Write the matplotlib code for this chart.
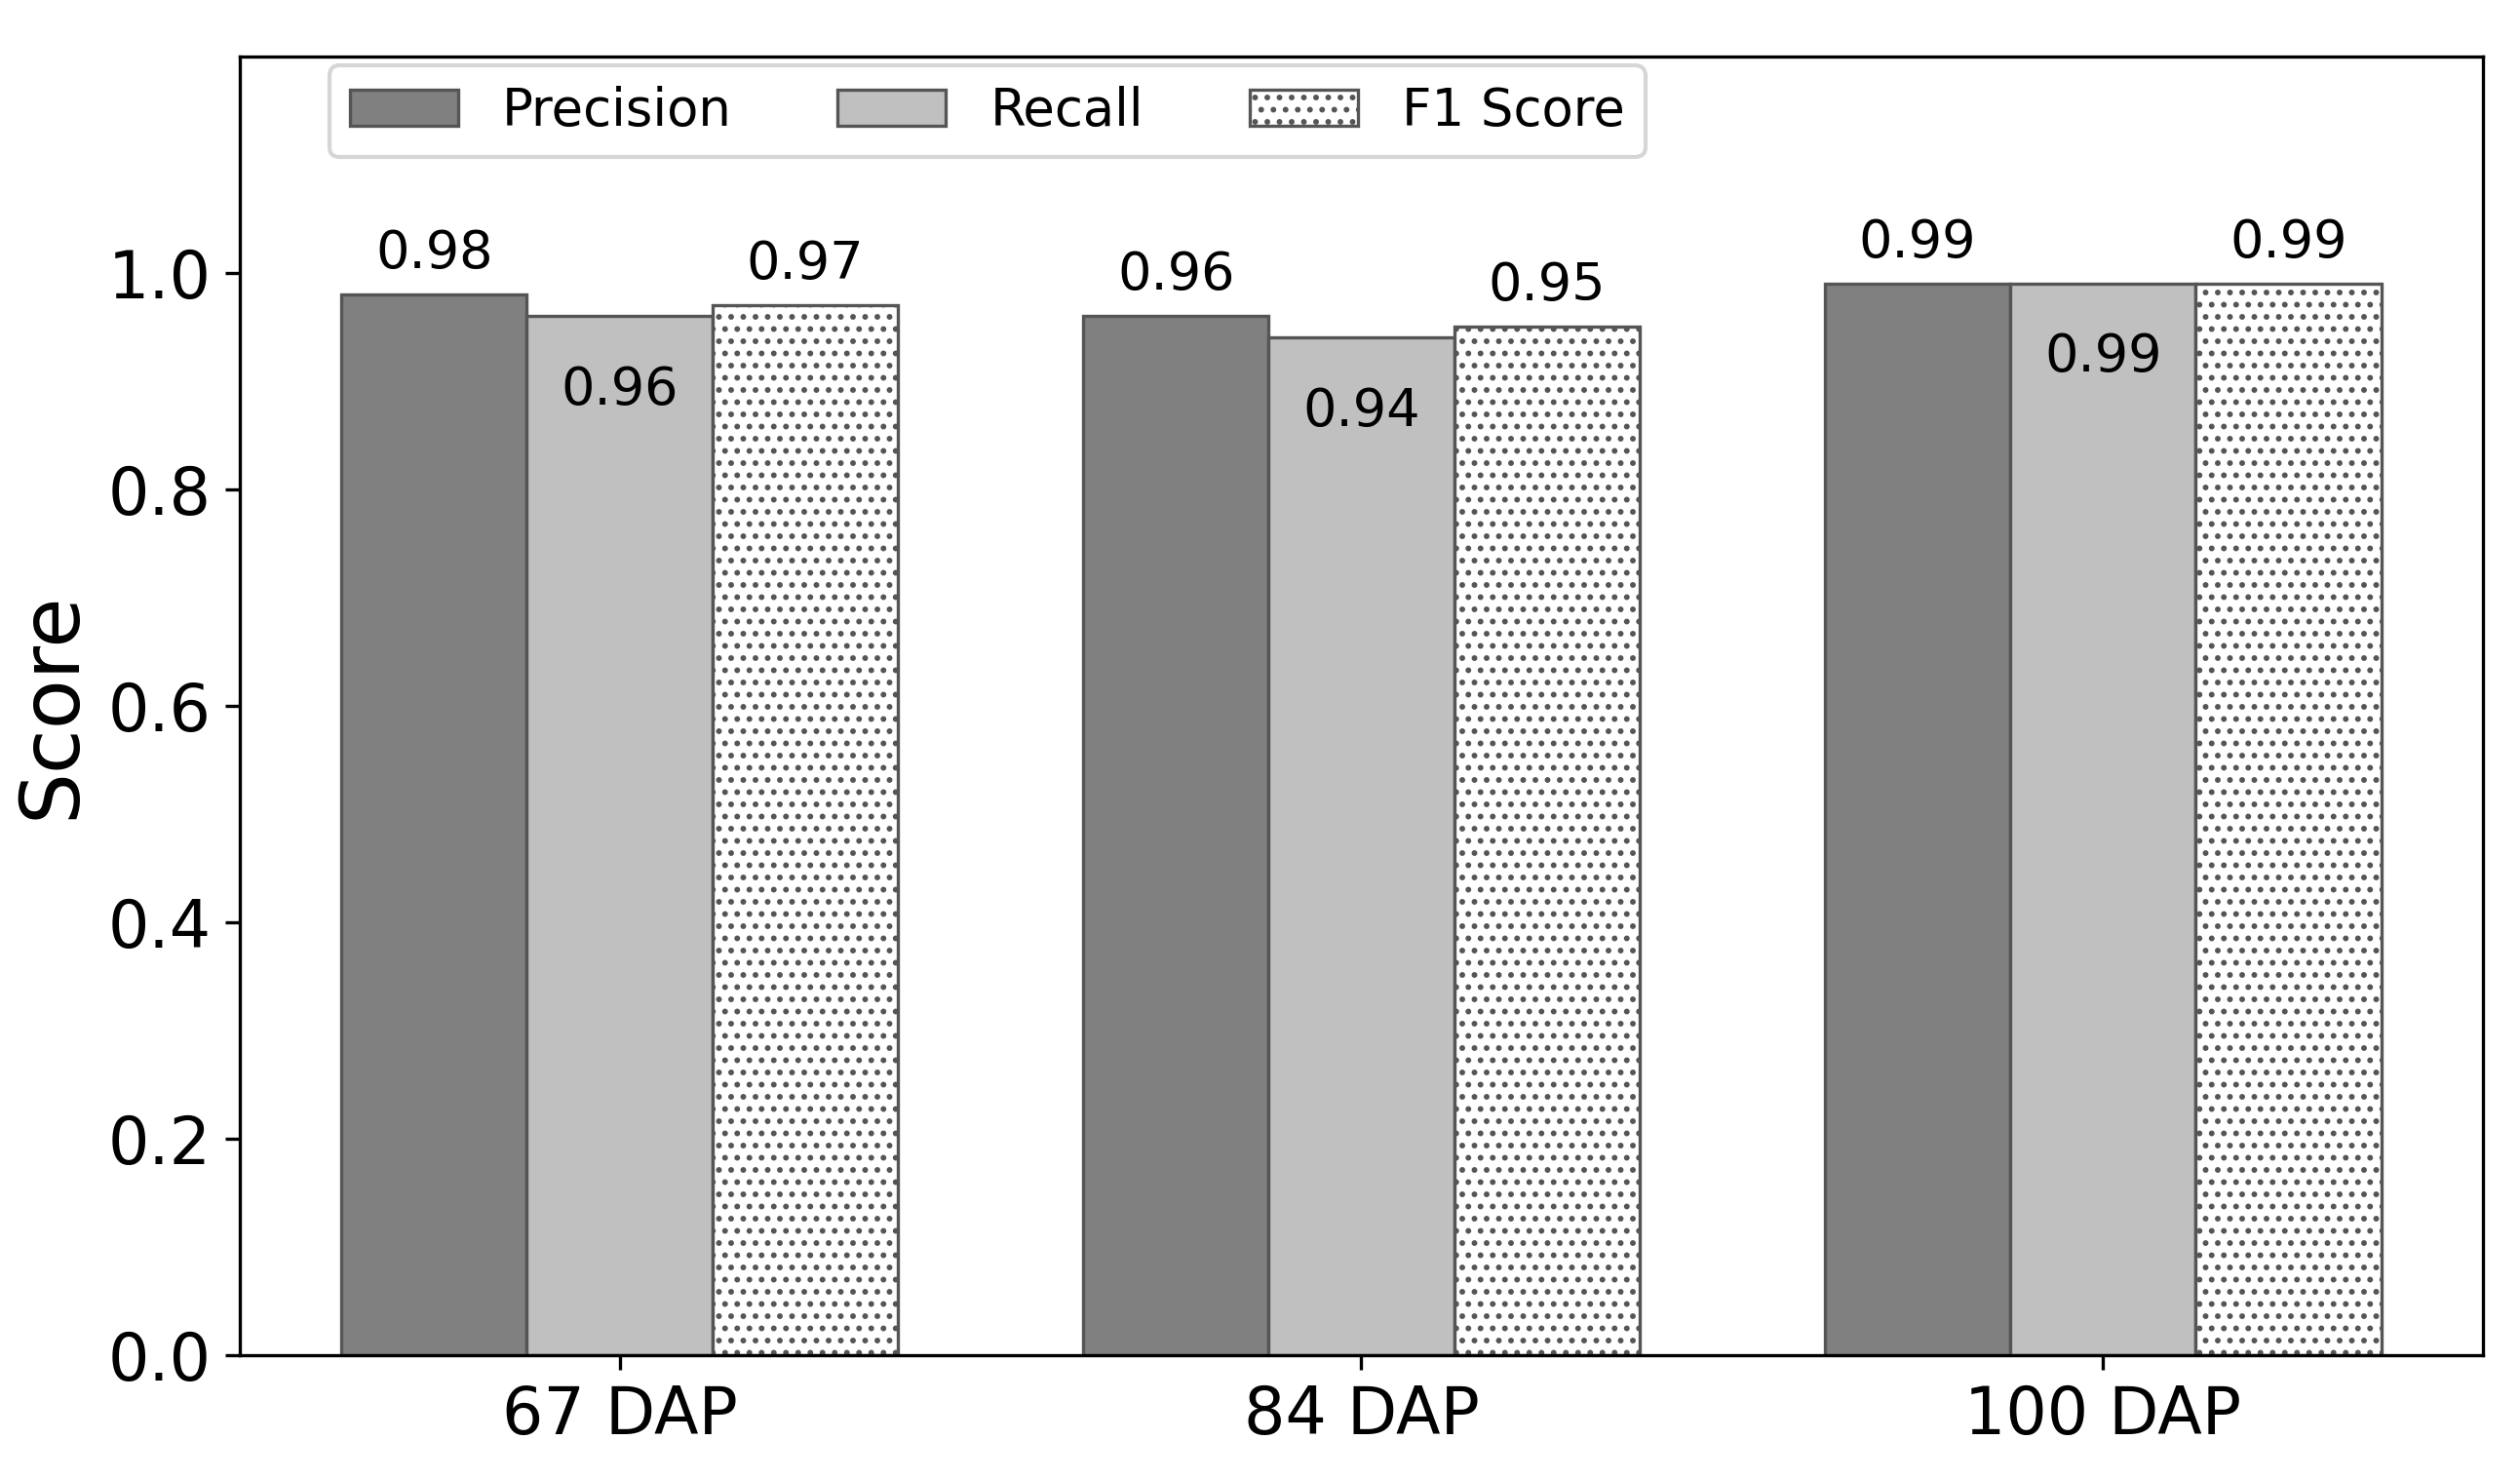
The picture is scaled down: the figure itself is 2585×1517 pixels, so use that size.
import numpy as np
import matplotlib
matplotlib.use("Agg")
import matplotlib.pyplot as plt

stages = ["67 DAP", "84 DAP", "100 DAP"]
precision = [0.98, 0.96, 0.99]
recall = [0.96, 0.94, 0.99]
f1 = [0.97, 0.95, 0.99]

plt.rcParams['font.family'] = ['DejaVu Sans']
plt.rcParams['hatch.color'] = '#666666'
plt.rcParams['hatch.linewidth'] = 0.8

fig, ax = plt.subplots(figsize=(2586 / 300, 1517 / 300), dpi=300)
fig.subplots_adjust(left=0.095, right=0.985, top=0.962, bottom=0.084)

x = np.arange(len(stages))
w = 0.25
edge = '#555555'

b1 = ax.bar(x - w, precision, w, color='#808080', edgecolor=edge, linewidth=0.8, label='Precision')
b2 = ax.bar(x, recall, w, color='#c0c0c0', edgecolor=edge, linewidth=0.8, label='Recall')
b3 = ax.bar(x + w, f1, w, color='white', edgecolor=edge, linewidth=0.8, hatch='....', label='F1 Score')

# labels: above for precision / f1, inside for recall
for bars in (b1, b3):
    for r in bars:
        h = r.get_height()
        ax.text(r.get_x() + r.get_width() / 2, h + 0.038, f"{h:.2f}",
                ha='center', va='center', fontsize=13)
for r in b2:
    h = r.get_height()
    ax.text(r.get_x() + r.get_width() / 2, h - 0.068, f"{h:.2f}",
            ha='center', va='center', fontsize=13)

ax.set_ylim(0, 1.2)
ax.set_yticks([0.0, 0.2, 0.4, 0.6, 0.8, 1.0])
ax.set_xticks(x)
ax.set_xticklabels(stages)
ax.tick_params(axis='both', labelsize=16)
ax.set_ylabel("Score", fontsize=20)

ax.legend(loc='upper left', bbox_to_anchor=(0.04, 0.993), borderaxespad=0,
          ncol=3, fontsize=12.7, handlelength=2.1, handletextpad=0.85,
          columnspacing=2.05)

plt.savefig("out.png", dpi=300)
